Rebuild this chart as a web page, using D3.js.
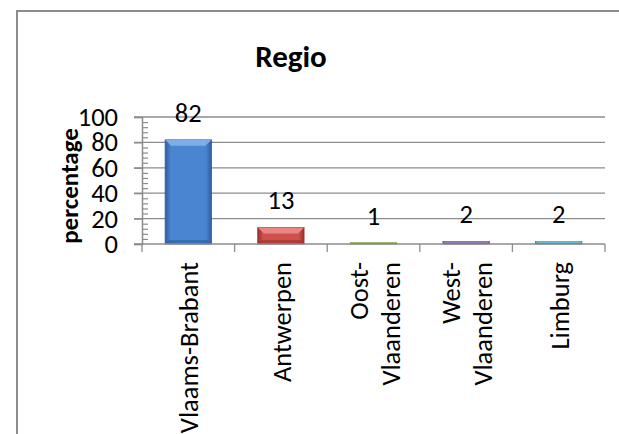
<!DOCTYPE html>
<html>
<head>
<meta charset="utf-8">
<script src="https://cdn.jsdelivr.net/npm/d3@7"></script>
<style>
  html, body { margin: 0; padding: 0; background: #fff; }
  svg { display: block; font-family: Carlito, Calibri, Lato, sans-serif; }
</style>
</head>
<body>
<div id="chart"></div>
<script>
// data
const regions = ["Vlaams-Brabant", "Antwerpen", "Oost-Vlaanderen", "West-Vlaanderen", "Limburg"];
const labelLines = [["Vlaams-Brabant"], ["Antwerpen"], ["Oost-", "Vlaanderen"], ["West-", "Vlaanderen"], ["Limburg"]];
const percentages = [82, 13, 1, 2, 2];
const yTicks = [0, 20, 40, 60, 80, 100];
const yMinorTicks = [4, 8, 12, 16, 24, 28, 32, 36, 44, 48, 52, 56, 64, 68, 72, 76, 84, 88, 92, 96];

// office-style series colours: [edge, main, light]
const palette = [
  ["#2c5d9f", "#4a85d1", "#7eaee8"],
  ["#97312e", "#d0504c", "#e98683"],
  ["#6f8a3a", "#9bbb59", "#c1d98f"],
  ["#5a4679", "#8064a2", "#ab96c7"],
  ["#2f7f95", "#4bacc6", "#8bd0e2"]
];

const width = 619, height = 434;
const plot = {left: 142, right: 605, top: 117, bottom: 244};
const fontSize = 26.5;

const svg = d3.select('#chart').append('svg')
  .attr('width', width)
  .attr('height', height);

// chart frame (runs off the picture right and bottom)
svg.append('rect')
  .attr('x', 17).attr('y', 11)
  .attr('width', 700).attr('height', 500)
  .attr('fill', 'none')
  .attr('stroke', '#8c8c8c')
  .attr('stroke-width', 2);

const x = d3.scaleBand().domain(regions).range([plot.left, plot.right]).padding(0);
const y = d3.scaleLinear().domain([0, 100]).range([plot.bottom, plot.top]);

const defs = svg.append('defs');
palette.forEach((c, i) => {
  const g = defs.append('linearGradient').attr('id', 'bar' + i)
    .attr('x1', '0%').attr('x2', '100%').attr('y1', '0%').attr('y2', '0%');
  g.append('stop').attr('offset', '0%').attr('stop-color', c[0]);
  g.append('stop').attr('offset', '12%').attr('stop-color', c[1]);
  g.append('stop').attr('offset', '88%').attr('stop-color', c[1]);
  g.append('stop').attr('offset', '100%').attr('stop-color', c[0]);
});

// gridlines
svg.append('g')
  .selectAll('line')
  .data(yTicks.filter(d => d > 0))
  .join('line')
  .attr('x1', plot.left - 8).attr('x2', plot.right)
  .attr('y1', d => y(d)).attr('y2', d => y(d))
  .attr('stroke', '#8c8c8c').attr('stroke-width', 1.3);

// bars
const barW = x.bandwidth() * 0.5;
const bars = svg.append('g').selectAll('g')
  .data(percentages)
  .join('g');

bars.append('rect')
  .attr('x', (d, i) => x(regions[i]) + (x.bandwidth() - barW) / 2)
  .attr('y', d => y(d))
  .attr('width', barW)
  .attr('height', d => y(0) - y(d))
  .attr('fill', (d, i) => `url(#bar${i})`)
  .attr('stroke', (d, i) => palette[i][0])
  .attr('stroke-width', 0.8);

// top bevel
bars.append('path')
  .attr('d', (d, i) => {
    const x0 = x(regions[i]) + (x.bandwidth() - barW) / 2;
    const y0 = y(d);
    const b = Math.min(6, (y(0) - y(d)) / 2);
    return `M${x0},${y0}L${x0 + barW},${y0}L${x0 + barW - b},${y0 + b}L${x0 + b},${y0 + b}Z`;
  })
  .attr('fill', (d, i) => palette[i][2]);

// bottom bevel
bars.append('path')
  .attr('d', (d, i) => {
    const x0 = x(regions[i]) + (x.bandwidth() - barW) / 2;
    const y1 = y(0);
    const b = Math.min(4, (y(0) - y(d)) / 2);
    return `M${x0},${y1}L${x0 + barW},${y1}L${x0 + barW - b},${y1 - b}L${x0 + b},${y1 - b}Z`;
  })
  .attr('fill', (d, i) => palette[i][0])
  .attr('opacity', 0.6);

// value labels
svg.append('g').selectAll('text')
  .data(percentages)
  .join('text')
  .attr('x', (d, i) => x(regions[i]) + x.bandwidth() / 2)
  .attr('y', d => y(d) - 18)
  .attr('text-anchor', 'middle')
  .attr('font-size', fontSize)
  .attr('fill', '#000')
  .text(d => d);

// y axis
const yAxis = svg.append('g')
  .attr('transform', `translate(${plot.left},0)`)
  .call(d3.axisLeft(y).tickValues(yTicks).tickSize(8).tickPadding(16));
yAxis.selectAll('line').attr('stroke', '#8c8c8c').attr('stroke-width', 1.3);
yAxis.select('.domain').attr('stroke', '#8c8c8c').attr('stroke-width', 1.5);
yAxis.selectAll('text').attr('font-size', fontSize).attr('fill', '#000')
  .style('font-family', 'Carlito, Calibri, Lato, sans-serif');

const yMinor = svg.append('g')
  .attr('transform', `translate(${plot.left},0)`)
  .call(d3.axisRight(y).tickValues(yMinorTicks).tickSize(6).tickFormat(''));
yMinor.select('.domain').remove();
yMinor.selectAll('line').attr('stroke', '#8c8c8c').attr('stroke-width', 1.2);

// x axis: baseline and tick marks at category boundaries
const xAxis = svg.append('g');
xAxis.append('line')
  .attr('x1', plot.left - 8).attr('x2', plot.right)
  .attr('y1', y(0)).attr('y2', y(0))
  .attr('stroke', '#8c8c8c').attr('stroke-width', 1.5);
xAxis.selectAll('.xtick')
  .data(regions.map(r => x(r)).concat([plot.right]))
  .join('line')
  .attr('class', 'xtick')
  .attr('x1', d => d).attr('x2', d => d)
  .attr('y1', y(0)).attr('y2', y(0) + 8)
  .attr('stroke', '#8c8c8c').attr('stroke-width', 1.3);

// rotated category labels
const lineH = 32;
const xLabels = svg.append('g').selectAll('text')
  .data(labelLines)
  .join('text')
  .attr('transform', (d, i) => `translate(${x(regions[i]) + x.bandwidth() / 2},262) rotate(-90)`)
  .attr('text-anchor', 'end')
  .attr('font-size', fontSize)
  .attr('fill', '#000');
xLabels.each(function(lines) {
  d3.select(this).selectAll('tspan')
    .data(lines)
    .join('tspan')
    .attr('x', 0)
    .attr('y', (l, j) => 10 + (j - (lines.length - 1) / 2) * lineH)
    .text(l => l);
});

// axis title
svg.append('text')
  .attr('transform', 'translate(78,186) rotate(-90)')
  .attr('text-anchor', 'middle')
  .attr('font-size', 25)
  .attr('font-weight', 'bold')
  .text('percentage');

// chart title
svg.append('text')
  .attr('x', 291).attr('y', 67)
  .attr('text-anchor', 'middle')
  .attr('font-size', 31)
  .attr('font-weight', 'bold')
  .text('Regio');
</script>
</body>
</html>
